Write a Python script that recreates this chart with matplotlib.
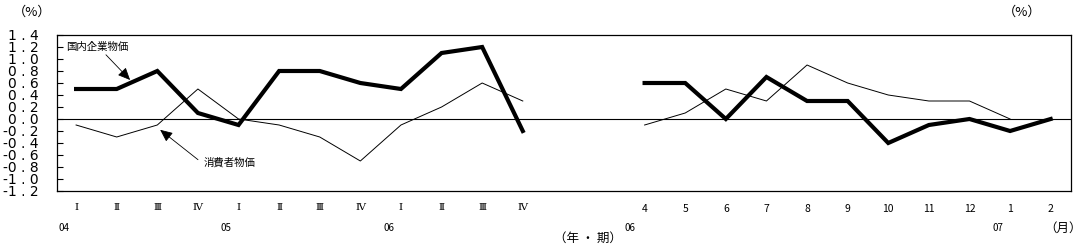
import numpy as np
import matplotlib
matplotlib.use("Agg")
import matplotlib.pyplot as plt

plt.rcParams['font.family'] = ['Noto Sans CJK JP', 'DejaVu Sans']
plt.rcParams['axes.unicode_minus'] = False

# Quarterly data (2004 I - 2006 IV)
quarter_labels = ['Ⅰ', 'Ⅱ', 'Ⅲ', 'Ⅳ', 'Ⅰ', 'Ⅱ', 'Ⅲ', 'Ⅳ', 'Ⅰ', 'Ⅱ', 'Ⅲ', 'Ⅳ']
cgpi_q = [0.5, 0.5, 0.8, 0.1, -0.1, 0.8, 0.8, 0.6, 0.5, 1.1, 1.2, -0.2]
cpi_q = [-0.1, -0.3, -0.1, 0.5, 0.0, -0.1, -0.3, -0.7, -0.1, 0.2, 0.6, 0.3]

# Monthly data (2006/4 - 2007/2)
month_labels = ['4', '5', '6', '7', '8', '9', '10', '11', '12', '1', '2']
cgpi_m = [0.6, 0.6, 0.0, 0.7, 0.3, 0.3, -0.4, -0.1, 0.0, -0.2, 0.0]
cpi_m = [-0.1, 0.1, 0.5, 0.3, 0.9, 0.6, 0.4, 0.3, 0.3, 0.0, np.nan]

year_labels = ['04', '05', '06', '06', '07']
y_ticks = [1.4, 1.2, 1.0, 0.8, 0.6, 0.4, 0.2, 0.0, -0.2, -0.4, -0.6, -0.8, -1.0, -1.2]

W, H = 1080, 250
fig = plt.figure(figsize=(W / 100, H / 100), dpi=100)
ax = fig.add_axes([57 / W, (H - 191) / H, (1071 - 57) / W, (191 - 35) / H])

xq = np.arange(len(cgpi_q))
xm = np.arange(len(cgpi_m)) + 14

ax.axhline(0, color='black', lw=0.8, zorder=1)
ax.plot(xq, cpi_q, color='black', lw=0.7, zorder=2)
ax.plot(xm, cpi_m, color='black', lw=0.7, zorder=2)
ax.plot(xq, cgpi_q, color='black', lw=3.0, zorder=3, solid_joinstyle='miter')
ax.plot(xm, cgpi_m, color='black', lw=3.0, zorder=3, solid_joinstyle='miter')

ax.set_xlim(-0.47, 24.5)
ax.set_ylim(-1.2, 1.4)

ax.set_yticks(y_ticks)
ax.set_yticklabels([" . ".join(f"{v:.1f}".split(".")) for v in y_ticks], fontsize=10,
                   family=['Liberation Sans Narrow', 'DejaVu Sans'])
ax.tick_params(axis='y', direction='in', length=4, width=0.8, pad=13)
for lab in ax.get_yticklabels():
    lab.set_horizontalalignment('right')

ax.set_xticks(list(xq) + list(xm))
ax.set_xticklabels(quarter_labels + month_labels, fontsize=7.5)
ax.tick_params(axis='x', length=0, pad=9)
for lab in ax.get_xticklabels()[:len(quarter_labels)]:
    lab.set_family(['DejaVu Serif'])
    lab.set_fontsize(7.5)

for s in ax.spines.values():
    s.set_linewidth(0.9)

# Year labels
year_pos = [xq[0] - 0.3, xq[4] - 0.3, xq[8] - 0.3, xm[0] - 0.35, xm[9] - 0.3]
for xp, lab in zip(year_pos, year_labels):
    ax.text(xp, -1.82, lab, fontsize=7, ha='center', va='center')

ax.text(12.6, -1.98, '（年 ・ 期）', fontsize=9, ha='center', va='center', clip_on=False)
ax.text(24.3, -1.82, '（月）', fontsize=9, ha='center', va='center', clip_on=False)
ax.text(-1.08, 1.78, '（%）', fontsize=9.5, ha='center', va='center', clip_on=False)
ax.text(23.3, 1.78, '（%）', fontsize=9.5, ha='center', va='center', clip_on=False)

# Series annotations
ax.annotate('国内企業物価', xy=(1.33, 0.65), xytext=(-0.25, 1.2), fontsize=7.5,
            ha='left', va='center',
            arrowprops=dict(arrowstyle='-|>,head_length=1.0,head_width=0.45', color='black',
                            lw=0.6, shrinkA=0, shrinkB=0,
                            relpos=(0.6, 0.0)))
ax.annotate('消費者物価', xy=(2.07, -0.18), xytext=(3.13, -0.73), fontsize=7.5,
            ha='left', va='center',
            arrowprops=dict(arrowstyle='-|>,head_length=1.0,head_width=0.45', color='black',
                            lw=0.6, shrinkA=0, shrinkB=0,
                            relpos=(-0.1, 0.8)))

fig.savefig('out.png', dpi=100, facecolor='white')
